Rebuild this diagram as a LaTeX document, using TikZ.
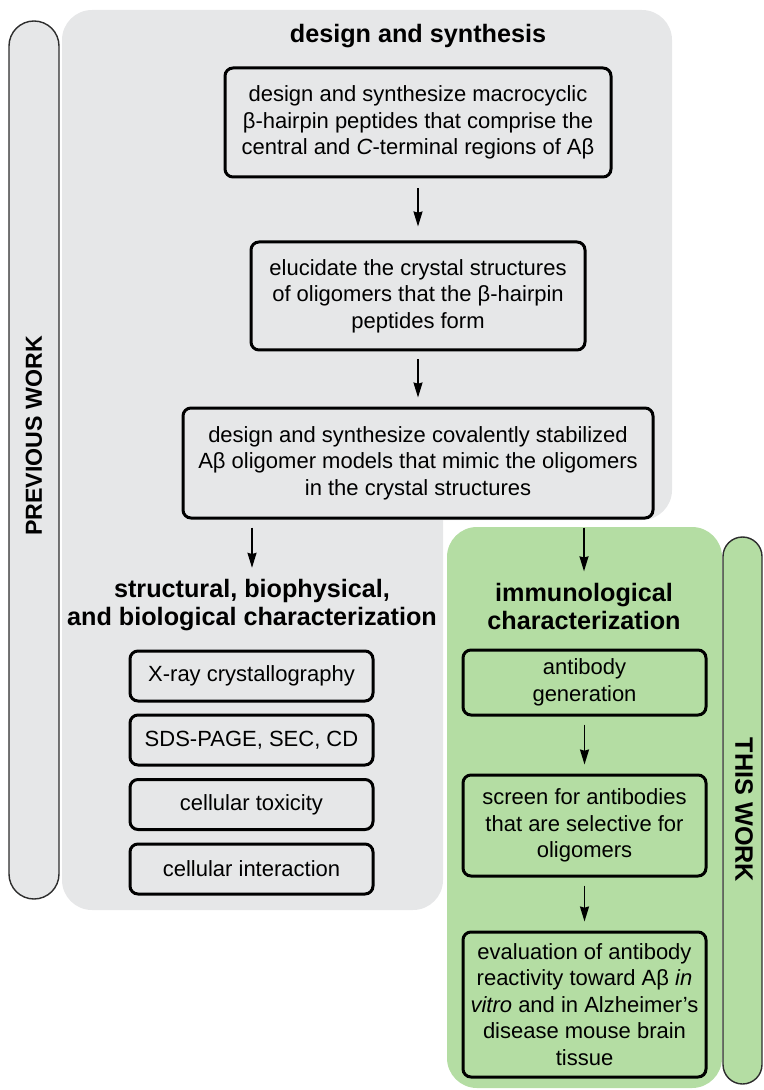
\documentclass[tikz,border=0pt]{standalone}
\usepackage{fontspec}
\setmainfont{Liberation Sans}
\usetikzlibrary{arrows.meta}
\definecolor{panelgray}{RGB}{230,231,232}
\definecolor{panelgreen}{RGB}{180,221,163}
\definecolor{barline}{RGB}{45,45,45}
\tikzset{
  stepbox/.style={draw, line width=1.5pt, rounded corners=4pt, align=center, inner sep=0pt, font=\fontsize{11}{13.3}\selectfont},
  listbox/.style={stepbox, minimum width=121.5pt, minimum height=25pt},
  heading/.style={align=center, inner sep=1pt, font=\bfseries\fontsize{12.6}{14}\selectfont},
  sidebar/.style={draw=barline, line width=0.7pt, rounded corners=#1},
  flow/.style={->, line width=0.8pt, shorten <=4pt, shorten >=4.5pt}
}
\begin{document}
\begin{tikzpicture}[x=0.5pt, y=-0.5pt, >={Stealth[length=7.5pt,width=4.5pt,inset=0.6pt]}]
\useasboundingbox (0,0) rectangle (764,1090);
\fill[panelgray, rounded corners=15pt] (62,10) rectangle (672,520);
\fill[panelgray, rounded corners=15pt] (62,300) rectangle (443,910);
\fill[panelgreen, rounded corners=15pt] (447,527) rectangle (722,1088);
\draw[sidebar=12.5pt, fill=panelgray] (9,21) rectangle (59,899);
\draw[sidebar=9.75pt, fill=panelgreen] (723,537) rectangle (762,1084);

\node[heading] (title) at (418,36) {design and synthesis};
\node[stepbox, minimum width=193pt, minimum height=54.5pt] (b1) at (418,122.5) {design and synthesize macrocyclic\\β-hairpin peptides that comprise the\\central and \textit{C}-terminal regions of Aβ};
\node[stepbox, minimum width=167pt, minimum height=54pt] (b2) at (418,296) {elucidate the crystal structures\\of oligomers that the β-hairpin\\peptides form};
\node[stepbox, minimum width=235pt, minimum height=55pt] (b3) at (418,463) {design and synthesize covalently stabilized\\Aβ oligomer models that mimic the oligomers\\in the crystal structures};
\node[heading] (prevhead) at (252,605) {structural, biophysical,\\and biological characterization};
\node[heading] (thishead) at (584,606) {immunological\\characterization};
\node[listbox] (xray) at (251.5,676) {X-ray crystallography};
\node[listbox] (sds) at (251.5,740) {SDS-PAGE, SEC, CD};
\node[listbox] (tox) at (251.5,804.5) {cellular toxicity};
\node[listbox] (inter) at (251.5,869) {cellular interaction};
\node[stepbox, minimum width=121.5pt, minimum height=32.5pt] (g1) at (584.5,682.5) {antibody\\generation};
\node[stepbox, minimum width=121.5pt, minimum height=50.5pt] (g2) at (584.5,825.5) {screen for antibodies\\that are selective for\\oligomers};
\node[stepbox, minimum width=121.5pt, minimum height=72.5pt] (g3) at (584.5,1004.5) {evaluation of antibody\\reactivity toward Aβ \textit{in}\\\textit{vitro} and in Alzheimer’s\\disease mouse brain\\tissue};
\node[heading, rotate=90, font=\bfseries\fontsize{11.6}{14}\selectfont] (prevlabel) at (34,436) {PREVIOUS WORK};
\node[heading, rotate=-90] (thislabel) at (744,810) {THIS WORK};

\draw[flow, shorten <=5pt, shorten >=7pt] (b1) -- (b2);
\draw[flow] (b2) -- (b3);
\draw[flow] (b3.south -| prevhead) -- (prevhead);
\draw[flow] (b3.south -| thishead) -- (thishead);
\draw[flow] (g1) -- (g2);
\draw[flow] (g2) -- (g3);
\end{tikzpicture}
\end{document}
